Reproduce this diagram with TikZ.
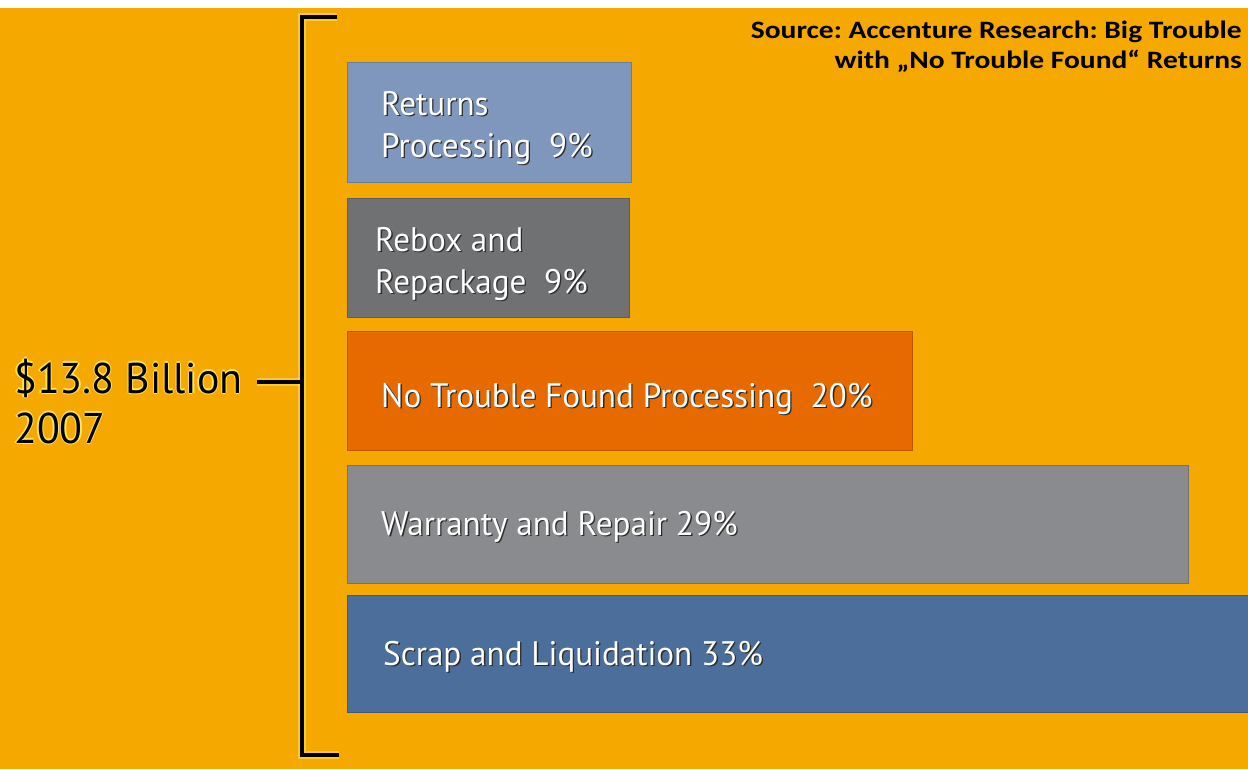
\documentclass[tikz,border=0pt]{standalone}
\usepackage{fontspec}
\setmainfont{PT Sans}
\newfontfamily\barfont[FakeStretch=0.975]{PT Sans}
\newfontfamily\srcfont[FakeStretch=1.18]{Carlito}

\definecolor{bgorange}{HTML}{F5A800}
\definecolor{glowyellow}{HTML}{FFE45C}
\definecolor{retblue}{HTML}{7F97BD}
\definecolor{reboxgrey}{HTML}{707173}
\definecolor{ntforange}{HTML}{E66A00}
\definecolor{warrgrey}{HTML}{8A8B8E}
\definecolor{scrapblue}{HTML}{4B6F9A}
\definecolor{txtshadow}{HTML}{2B2B2B}

% white label text with a soft dark drop shadow
\newcommand\sh[1]{\leavevmode\rlap{\kern1.3pt\raisebox{-1.3pt}{\color{txtshadow}#1}}#1}
% dark text with a light yellow halo
\newcommand\halo[1]{\leavevmode%
  \rlap{\kern1.2pt{\color{glowyellow}#1}}%
  \rlap{\kern-1.2pt{\color{glowyellow}#1}}%
  \rlap{\raisebox{1.2pt}{\color{glowyellow}#1}}%
  \rlap{\raisebox{-1.2pt}{\color{glowyellow}#1}}%
  #1}

\begin{document}
\frenchspacing
\begin{tikzpicture}[x=1pt,y=-1pt,
  bar/.style={anchor=north west, inner sep=0pt, outer sep=0pt,
    draw=#1!82!black, line width=0.9pt, fill=#1},
  bartext/.style={anchor=base west, inner sep=0pt, text=white,
    font=\barfont\fontsize{34}{42}\selectfont},
  bigtext/.style={anchor=base west, inner sep=0pt, text=black,
    font=\barfont\fontsize{43}{50}\selectfont},
  srctext/.style={anchor=base east, inner sep=0pt, text=black,
    font=\srcfont\bfseries\fontsize{25}{30}\selectfont},
  bracketglow/.style={line width=8pt, glowyellow, opacity=0.55},
  bracketline/.style={line width=3.6pt, black}]

% page and background
\useasboundingbox (0,0) rectangle (1248,769);
\fill[white] (0,0) rectangle (1248,769);
\fill[bgorange] (0,8) rectangle (1248,769);

% cost blocks
\node[bar=retblue,   minimum width=284pt, minimum height=120pt] (ret) at (347,62)  {};
\node[bar=reboxgrey, minimum width=282pt, minimum height=119pt] (rbx) at (347,198) {};
\node[bar=ntforange, minimum width=565pt, minimum height=119pt] (ntf) at (347,331) {};
\node[bar=warrgrey,  minimum width=841pt, minimum height=118pt] (war) at (347,465) {};
\node[bar=scrapblue, minimum width=904pt, minimum height=117pt] (scr) at (347,595) {};

% block labels
\node[bartext] (retT) at (381,115) {\begin{tabular}[t]{@{}l@{}}\sh{Returns}\\\sh{Processing\ \ 9\%}\end{tabular}};
\node[bartext] (rbxT) at (375,251) {\begin{tabular}[t]{@{}l@{}}\sh{Rebox and}\\\sh{Repackage\ \ 9\%}\end{tabular}};
\node[bartext] (ntfT) at (381,407) {\sh{No Trouble Found Processing\ \ 20\%}};
\node[bartext] (warT) at (381,535) {\sh{Warranty and Repair 29\%}};
\node[bartext] (scrT) at (383,665) {\sh{Scrap and Liquidation 33\%}};

% total
\node[bigtext] (bill) at (14,393) {\halo{\$13.8 Billion}};
\node[bigtext] (year) at (14,443) {\halo{2007}};

% source note
\node[srctext] (src) at (1242,38) {\begin{tabular}[t]{@{}r@{}}Source: Accenture Research: Big Trouble\\with „No Trouble Found“ Returns\end{tabular}};

% bracket
\coordinate (brTopEnd) at (337,17);
\coordinate (brTop) at (302,17);
\coordinate (brBot) at (302,755);
\coordinate (brBotEnd) at (339,755);
\coordinate (brMid) at (302,382);
\coordinate (tickL) at (257,382);
\draw[bracketglow] (brTopEnd) -- (brTop) -- (brBot) -- (brBotEnd);
\draw[bracketglow] (tickL) -- (brMid);
\draw[bracketline] (brTopEnd) -- (brTop) -- (brBot) -- (brBotEnd);
\draw[bracketline] (tickL) -- (brMid);
\end{tikzpicture}
\end{document}
